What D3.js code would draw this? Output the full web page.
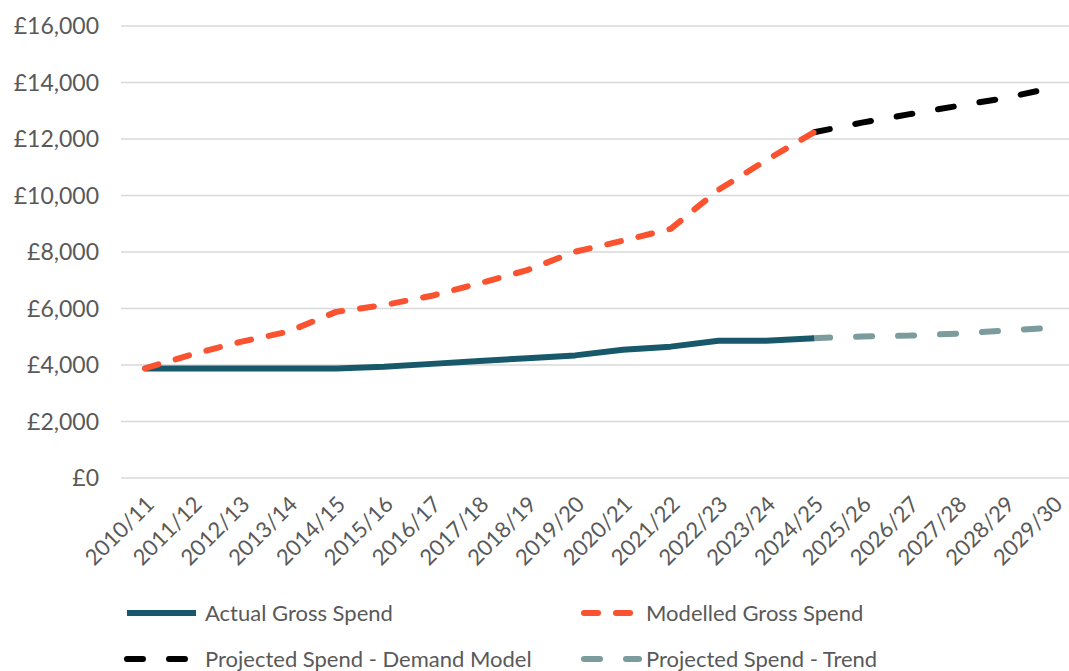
<!DOCTYPE html>
<html>
<head>
<meta charset="utf-8">
<script src="https://cdn.jsdelivr.net/npm/d3@7"></script>
<style>
  html, body { margin: 0; padding: 0; background: #fff; }
  svg { display: block; }
  text { font-family: Lato, "Open Sans", sans-serif; fill: #595959; }
</style>
</head>
<body>
<svg id="chart" width="1069" height="671"></svg>
<script>
// Financial years on the category axis
const years = ["2010/11","2011/12","2012/13","2013/14","2014/15","2015/16","2016/17",
  "2017/18","2018/19","2019/20","2020/21","2021/22","2022/23","2023/24","2024/25",
  "2025/26","2026/27","2027/28","2028/29","2029/30"];

// Gross spend (£), outturn to 2024/25
const actualSpend = [3880,3880,3880,3880,3880,3940,4040,4140,4240,4340,4540,4650,4860,4860,4950];
// Spend from the demand model, to 2024/25
const modelledSpend = [3880,4380,4820,5180,5880,6120,6450,6890,7360,8010,8400,8820,10200,11250,12240];
// Projections from 2024/25 onwards
const projYears = ["2024/25","2025/26","2026/27","2027/28","2028/29","2029/30"];
const projDemand = [12240,12580,12880,13170,13450,13820];
const projTrend = [4950,5010,5040,5110,5220,5320];

const yTicks = [0,2000,4000,6000,8000,10000,12000,14000,16000];

const legendItems = [
  {name: "Actual Gross Spend", color: "#17596a", dash: null},
  {name: "Modelled Gross Spend", color: "#fb5230", dash: "14 18"},
  {name: "Projected Spend - Demand Model", color: "#000000", dash: "16 26"},
  {name: "Projected Spend - Trend", color: "#7b9b9c", dash: "16 26"}
];

const svg = d3.select("#chart");
const plotLeft = 121, plotRight = 1077, plotTop = 26, plotBottom = 478;

const x = d3.scaleBand().domain(years).range([plotLeft, plotRight]);
const cx = d => x(d) + x.bandwidth() / 2;
const y = d3.scaleLinear().domain([0, 16000]).range([plotBottom, plotTop]);

// Horizontal gridlines
svg.append("g").selectAll("line").data(yTicks).join("line")
  .attr("x1", plotLeft).attr("x2", 1069)
  .attr("y1", d => y(d)).attr("y2", d => y(d))
  .attr("stroke", "#d9d9d9").attr("stroke-width", 1.5);

// Value axis labels
const fmt = d => "£" + d3.format(",")(d);
svg.append("g").selectAll("text").data(yTicks).join("text")
  .attr("x", 99).attr("y", d => y(d))
  .attr("dy", "0.36em")
  .attr("text-anchor", "end")
  .attr("font-size", 23)
  .text(fmt);

// Category axis labels, rotated
svg.append("g").selectAll("text").data(years).join("text")
  .attr("transform", d => `translate(${cx(d) + 5},${500}) rotate(-45)`)
  .attr("dy", "0.36em")
  .attr("text-anchor", "end")
  .attr("font-size", 22)
  .text(d => d);

const line = d3.line().x(d => cx(d[0])).y(d => y(d[1]));

function drawSeries(cats, vals, color, width, dash, cap) {
  svg.append("path")
    .datum(cats.map((c, i) => [c, vals[i]]))
    .attr("d", line)
    .attr("fill", "none")
    .attr("stroke", color)
    .attr("stroke-width", width)
    .attr("stroke-linejoin", "round")
    .attr("stroke-linecap", cap)
    .attr("stroke-dasharray", dash);
}

const actualYears = years.slice(0, actualSpend.length);
drawSeries(projYears, projTrend, "#7b9b9c", 6, "16 26", "round");
drawSeries(actualYears, actualSpend, "#17596a", 6, null, "butt");
drawSeries(projYears, projDemand, "#000000", 6, "16 26", "round");
drawSeries(actualYears, modelledSpend, "#fb5230", 6, "14 18", "round");

// Legend, two rows of two
const lg = svg.append("g");
const legendPos = [
  {x1: 127, x2: 196, tx: 205, y: 613}, {x1: 584, x2: 639, tx: 646, y: 613},
  {x1: 127, x2: 196, tx: 205, y: 659}, {x1: 584, x2: 639, tx: 646, y: 659}
];
legendItems.forEach((it, i) => {
  const p = legendPos[i];
  lg.append("line")
    .attr("x1", p.x1).attr("x2", p.x2)
    .attr("y1", p.y).attr("y2", p.y)
    .attr("stroke", it.color).attr("stroke-width", 6)
    .attr("stroke-linecap", it.dash ? "round" : "butt")
    .attr("stroke-dasharray", it.dash);
  lg.append("text")
    .attr("x", p.tx).attr("y", p.y)
    .attr("dy", "0.36em")
    .attr("font-size", 22)
    .text(it.name);
});
</script>
</body>
</html>
